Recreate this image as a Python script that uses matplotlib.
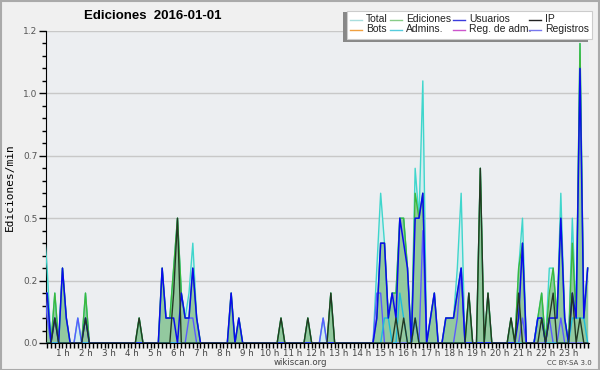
import matplotlib
matplotlib.use('Agg')
import matplotlib.pyplot as plt
import numpy as np
from matplotlib.lines import Line2D
from matplotlib.patches import Rectangle

# 10 minute bins, values in edits per minute
minutes = list(range(0, 1440, 10))

total = [0, .5, .3, 0, .2, 0, .3, .1, 0, 0, .1, 0, .2, 0, 0, 0, 0, 0, 0, 0, 0, 0, 0, 0,
         0, 0, .1, 0, 0, 0, 0, 0, .3, .1, .1, .3, .5, .2, .1, .2, .4, .1, 0, 0, 0, 0, 0, 0,
         0, 0, .2, 0, .1, 0, 0, 0, 0, 0, 0, 0, 0, 0, 0, .1, 0, 0, 0, 0, 0, 0, .1, 0,
         0, 0, .1, 0, .2, 0, 0, 0, 0, 0, 0, 0, 0, 0, 0, 0, .3, .6, .4, .1, .2, .2, .5, .5,
         .3, 0, .7, .5, 1.05, 0, .1, .2, 0, 0, .1, .1, .1, .3, .6, 0, .2, 0, 0, .7, 0, .2, 0, 0,
         0, 0, 0, .1, 0, .3, .5, 0, 0, 0, .1, .2, 0, .3, .3, .1, .6, .1, 0, .5, .1, 1.2, .1, .3]

ediciones = [0, .2, .2, 0, .2, 0, .3, .1, 0, 0, 0, 0, .2, 0, 0, 0, 0, 0, 0, 0, 0, 0, 0, 0,
             0, 0, .1, 0, 0, 0, 0, 0, .3, .1, .1, .3, .5, .2, .1, .1, .3, .1, 0, 0, 0, 0, 0, 0,
             0, 0, .2, 0, .1, 0, 0, 0, 0, 0, 0, 0, 0, 0, 0, .1, 0, 0, 0, 0, 0, 0, .1, 0,
             0, 0, 0, 0, .2, 0, 0, 0, 0, 0, 0, 0, 0, 0, 0, 0, .1, .4, .4, .1, .2, .2, .5, .5,
             .3, 0, .6, .5, .6, 0, .1, .2, 0, 0, .1, .1, .1, .2, .3, 0, .2, 0, 0, .7, 0, .2, 0, 0,
             0, 0, 0, .1, 0, .3, .4, 0, 0, 0, .1, .2, 0, .2, .3, .1, .5, .1, 0, .4, .1, 1.2, .1, .3]

usuarios = [0, .2, .2, 0, .1, 0, .3, .1, 0, 0, 0, 0, .1, 0, 0, 0, 0, 0, 0, 0, 0, 0, 0, 0,
            0, 0, 0, 0, 0, 0, 0, 0, .3, .1, .1, .1, 0, .2, .1, .1, .3, .1, 0, 0, 0, 0, 0, 0,
            0, 0, .2, 0, .1, 0, 0, 0, 0, 0, 0, 0, 0, 0, 0, 0, 0, 0, 0, 0, 0, 0, 0, 0,
            0, 0, 0, 0, 0, 0, 0, 0, 0, 0, 0, 0, 0, 0, 0, 0, .1, .4, .4, .1, .2, .1, .5, .4,
            .3, 0, .5, .5, .6, 0, .1, .2, 0, 0, .1, .1, .1, .2, .3, 0, 0, 0, 0, 0, 0, 0, 0, 0,
            0, 0, 0, 0, 0, .1, .4, 0, 0, 0, .1, .1, 0, .1, .1, .1, .5, .1, 0, .2, .1, 1.1, .1, .3]

ip = [0, 0, 0, 0, .1, 0, 0, 0, 0, 0, 0, 0, .1, 0, 0, 0, 0, 0, 0, 0, 0, 0, 0, 0,
      0, 0, .1, 0, 0, 0, 0, 0, 0, 0, 0, .2, .5, 0, 0, 0, 0, 0, 0, 0, 0, 0, 0, 0,
      0, 0, 0, 0, 0, 0, 0, 0, 0, 0, 0, 0, 0, 0, 0, .1, 0, 0, 0, 0, 0, 0, .1, 0,
      0, 0, 0, 0, .2, 0, 0, 0, 0, 0, 0, 0, 0, 0, 0, 0, 0, 0, 0, 0, 0, .1, 0, .1,
      0, 0, .1, 0, 0, 0, 0, 0, 0, 0, 0, 0, 0, 0, 0, 0, .2, 0, 0, .7, 0, .2, 0, 0,
      0, 0, 0, .1, 0, .2, 0, 0, 0, 0, 0, .1, 0, .1, .2, 0, 0, 0, 0, .2, 0, .1, 0, 0]

# sparse series: bin index -> value
admins_bins = [90, 91, 94, 95, 98, 130, 131, 139, 140, 141, 142]
admins_vals = [.1, .1, .2, .1, .1, .1, .1, .1, .1, .1, .1]
registros_bins = [1, 2, 10, 39, 40, 74, 88, 89, 98, 100, 109, 110, 126, 133, 136]
registros_vals = [.3, .1, .1, .1, .1, .1, .2, .2, .1, .45, .1, .3, .1, .1, .1]

hour_labels = ['%d h' % h for h in range(1, 24)]
ytick_vals = [0, 0.25, 0.5, 0.75, 1.0, 1.25]
ytick_labels = ['0.0', '0.2', '0.5', '0.7', '1.0', '1.2']

admins = np.zeros(len(minutes))
admins[admins_bins] = admins_vals
registros = np.zeros(len(minutes))
registros[registros_bins] = registros_vals

fig = plt.figure(figsize=(6, 3.7), dpi=100)
fig.patch.set_facecolor('#f0f0f0')
ax = fig.add_axes([46 / 600, 27 / 370, 543 / 600, 312 / 370])
ax.set_facecolor('#eceef1')

ax.fill_between(minutes, total, color='#d3ecef', lw=0, zorder=1)
ax.fill_between(minutes, ediciones, color='#93c99f', lw=0, zorder=2)
ax.plot(minutes, total, color='#3fd6cc', lw=1, zorder=3)
ax.plot(minutes, ediciones, color='#3cb83c', lw=1, zorder=4)
ax.plot(minutes, registros, color='#5a5aff', lw=1, zorder=5)
ax.plot(minutes, admins, color='#1cbcdc', lw=1, zorder=6)
ax.plot(minutes, usuarios, color='#0a0aee', lw=1.1, zorder=7)
ax.plot(minutes, ip, color='#233823', lw=1, zorder=8)

ax.set_xlim(17, 1433.5)
ax.set_ylim(0, 1.25)
ax.set_yticks(ytick_vals)
ax.set_yticklabels(ytick_labels)
ax.set_yticks(np.arange(0, 1.26, 0.05), minor=True)
ax.set_xticks([60 * h for h in range(1, 24)])
ax.set_xticklabels(hour_labels)
ax.set_xticks(np.arange(20, 1440, 10), minor=True)
ax.grid(axis='y', which='major', color='#c8c8c8', lw=1, zorder=0)
ax.set_axisbelow(True)

for s in ['top', 'right']:
    ax.spines[s].set_visible(False)
ax.spines['left'].set_color('black')
ax.spines['bottom'].set_color('black')
ax.tick_params(axis='y', which='major', length=5, width=1, labelsize=6.5, labelcolor='#555555', pad=1)
ax.tick_params(axis='y', which='minor', length=3, width=1)
ax.tick_params(axis='x', which='major', length=3.5, width=1, labelsize=6.3, labelcolor='#444444', pad=0.8)
ax.tick_params(axis='x', which='minor', length=3.5, width=1)

ax.set_ylabel('Ediciones/min', family='DejaVu Sans Mono', fontsize=8, labelpad=6)

fig.text(153 / 600, 1 - 16 / 370, 'Ediciones  2016-01-01', family='Liberation Sans', fontweight='bold',
         fontsize=9.5, ha='center', va='center')
fig.text(300 / 600, 1 - 362.5 / 370, 'wikiscan.org', fontsize=6.2, color='#444444', ha='center', va='center')
fig.text(569 / 600, 1 - 363 / 370, 'CC BY-SA 3.0', fontsize=5, color='#444444', ha='center', va='center')

# legend box with shadow
fig.patches.append(Rectangle((343 / 600, 1 - 42 / 370), 245 / 600, 30 / 370, transform=fig.transFigure,
                             facecolor='#888888', edgecolor='none', zorder=10))
fig.patches.append(Rectangle((347 / 600, 1 - 38.5 / 370), 245 / 600, 27 / 370, transform=fig.transFigure,
                             facecolor='white', edgecolor='#cccccc', lw=0.8, zorder=11))
legend_names = [['Total', 'Ediciones', 'Usuarios', 'IP'],
                ['Bots', 'Admins.', 'Reg. de adm.', 'Registros']]
legend_colors = [['#a8dede', '#88cc88', '#3c3cdd', '#222222'],
                 ['#f0a040', '#55ccdd', '#cc55cc', '#7777ee']]
col_x = [350, 390, 453, 529]
row_y = [19.5, 29.5]
for r in range(2):
    for c in range(4):
        y = 1 - row_y[r] / 370
        fig.lines.append(Line2D([col_x[c] / 600, (col_x[c] + 12) / 600], [y, y], transform=fig.transFigure,
                                color=legend_colors[r][c], lw=1, zorder=12))
        fig.text((col_x[c] + 16) / 600, y, legend_names[r][c], family='Liberation Sans', fontsize=7.5,
                 ha='left', va='center', color='#222222', zorder=12)

fig.patches.append(Rectangle((0.5 / 600, 0.5 / 370), 598.5 / 600, 369 / 370, transform=fig.transFigure,
                             facecolor='none', edgecolor='#aaaaaa', lw=1.5, zorder=20))

fig.savefig('out.png', dpi=100, facecolor=fig.get_facecolor())
